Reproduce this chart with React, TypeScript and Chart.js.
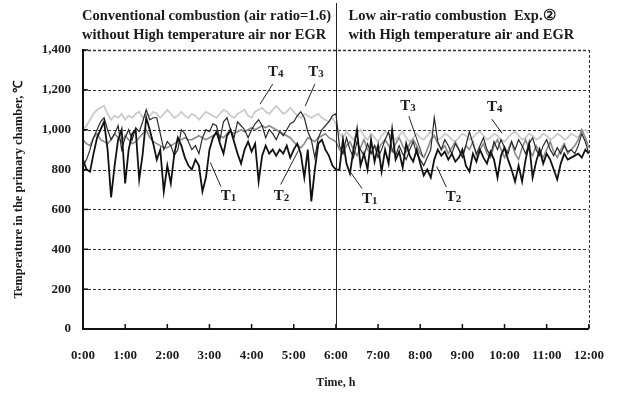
import { useEffect, useRef } from "react";
import { Chart, registerables } from "chart.js";

Chart.register(...registerables);

// ---------- data (one value every 5 minutes, 0:00 .. 12:00) ----------
const STEP_MIN = 5;

const T1 = [
  850, 800, 790, 880, 960, 1000, 1040, 900, 660, 820, 950, 1000,
  730, 900, 980, 1000, 750, 880, 1060, 1000, 930, 850, 900, 690,
  820, 730, 880, 960, 920, 860, 820, 800, 850, 820, 690, 760,
  900, 960, 990, 930, 880, 970, 1000, 940, 880, 830, 900, 940,
  890, 930, 740, 870, 920, 880, 900, 870, 900, 880, 920, 860,
  900, 930, 880, 760, 900, 640, 800, 930, 950, 900, 870, 820,
  800, 800, 950, 830, 780, 900, 1000, 820, 880, 800, 950, 840,
  920, 790, 900, 830, 1000, 850, 890, 810, 930, 870, 840, 900,
  830, 770, 800, 760, 850, 900, 870, 890, 850, 880, 840, 860,
  900, 820, 790, 880, 840, 900, 860, 830, 890, 850, 760, 870,
  910, 850, 800, 740, 820, 740, 850, 930, 760, 840, 900, 830,
  880, 850, 800, 750, 830, 880, 850, 860, 870, 880, 860, 900,
  880,
];

const T3 = [
  820, 850, 900, 960, 1000, 1040, 1060, 1000, 950, 980, 1020, 900,
  960, 1000, 950, 1010, 990, 1040, 1100, 1050, 1060, 1060, 980, 900,
  940, 920, 870, 900, 1000, 980, 940, 900, 920, 880, 960, 1000,
  990, 1030, 1020, 950, 1040, 1060, 1000, 960, 1040, 1020, 1000, 960,
  1000, 1030, 1050, 1020, 960, 1000, 980, 950, 990, 970, 1000, 1030,
  1040, 1070, 1090, 1060, 990, 950, 860, 960, 1000, 1020, 1040, 1070,
  1080, 920, 880, 960, 900, 860, 940, 900, 870, 930, 880, 920,
  860, 900, 950, 990, 900, 870, 920, 880, 850, 900, 940, 880,
  850, 820, 860, 900, 1060, 940, 900, 950, 920, 880, 930, 900,
  860, 920, 990, 930, 880, 920, 960, 900, 870, 940, 900, 950,
  910, 880, 940, 900, 950, 920, 880, 930, 960, 900, 870, 920,
  950, 900, 870, 910, 880, 920, 890, 900, 880, 920, 980, 940,
  880,
];

const T2 = [
  950, 930, 920, 960, 980, 950, 940, 930, 950, 980, 960, 940,
  970, 950, 930, 940, 960, 980, 1000, 960, 940, 930, 920, 910,
  910, 920, 930, 940, 950, 960, 950, 950, 960, 970, 960, 950,
  960, 970, 980, 970, 960, 980, 990, 980, 990, 1000, 990, 1000,
  1010, 1000, 1010, 1020, 1010, 1020, 1010, 1000, 990, 980, 970, 960,
  940, 920, 910, 930, 960, 950, 940, 960, 970, 980, 960, 950,
  940, 900, 880, 920, 940, 900, 870, 910, 950, 900, 880, 920,
  900, 930, 950, 920, 890, 930, 960, 920, 890, 930, 950, 920,
  880, 860, 900, 950, 970, 930, 900, 920, 880, 910, 940, 900,
  870, 920, 900, 940, 870, 900, 930, 880, 860, 920, 950, 900,
  860, 900, 940, 880, 850, 910, 950, 900, 870, 920, 890, 860,
  900, 940, 890, 860, 900, 930, 880, 900, 920, 950, 1000, 960,
  910,
];

const T4 = [
  1000, 1020, 1050, 1080, 1100, 1110, 1120, 1080, 1050, 1070, 1060, 1080,
  1050, 1070, 1060, 1080, 1090, 1060, 1080, 1070, 1090, 1080, 1060, 1080,
  1100, 1080, 1060, 1070, 1090, 1070, 1060, 1080, 1070, 1050, 1070, 1090,
  1080, 1070, 1060, 1080, 1100, 1090, 1070, 1060, 1080, 1090, 1100, 1070,
  1060, 1090, 1100, 1110, 1090, 1080, 1100, 1120, 1100, 1080, 1090, 1110,
  1090, 1070, 1060, 1080, 1070, 1060, 1070, 1080, 1060, 1050, 1040, 1060,
  1030, 980, 960, 990, 970, 950, 980, 1000, 970, 950, 980, 960,
  940, 970, 990, 980, 960, 950, 970, 990, 960, 940, 960, 980,
  960, 950, 970, 990, 970, 950, 960, 980, 970, 950, 940, 960,
  980, 970, 950, 960, 980, 990, 970, 950, 960, 980, 970, 950,
  940, 960, 980, 990, 970, 950, 960, 980, 970, 950, 960, 980,
  970, 950, 960, 980, 970, 950, 960, 980, 970, 960, 990, 1000,
  980,
];

const TIME_LABELS = [
  "0:00", "1:00", "2:00", "3:00", "4:00", "5:00", "6:00",
  "7:00", "8:00", "9:00", "10:00", "11:00", "12:00",
];
const TEMP_TICKS = [0, 200, 400, 600, 800, 1000, 1200, 1400];
const SPLIT_HOUR = 6;

const TITLE_LEFT = [
  "Conventional combustion (air ratio=1.6)",
  "without High temperature air nor EGR",
];
const TITLE_RIGHT = [
  "Low air-ratio combustion  Exp.\u2461",
  "with High temperature air and EGR",
];

// label annotations, in data units: [hour, °C]
const ANNOTATIONS = [
  { sub: "4", at: [4.57, 1289], from: [4.5, 1229], to: [4.2, 1128] },
  { sub: "3", at: [5.53, 1289], from: [5.5, 1229], to: [5.27, 1118] },
  { sub: "1", at: [3.45, 665], from: [3.27, 715], to: [3.02, 836] },
  { sub: "2", at: [4.71, 665], from: [4.69, 725], to: [5.11, 896] },
  { sub: "1", at: [6.8, 650], from: [6.62, 705], to: [6.33, 791] },
  { sub: "2", at: [8.79, 660], from: [8.62, 712], to: [8.39, 816] },
  { sub: "3", at: [7.71, 1118], from: [7.73, 1068], to: [8.06, 866] },
  { sub: "4", at: [9.77, 1113], from: [9.7, 1053], to: [9.94, 982] },
];

const FONT = "'Liberation Serif', 'Times New Roman', serif";
const INK = "#1a1a1a";

const toPoints = (arr: number[]) =>
  arr.map((v, i) => ({ x: (i * STEP_MIN) / 60, y: v }));

const overlay = {
  id: "overlay",
  beforeDatasetsDraw(chart: any) {
    const { ctx, chartArea: a, scales } = chart;
    const y = scales.y;
    ctx.save();
    ctx.strokeStyle = "#333";
    ctx.lineWidth = 1;
    ctx.setLineDash([3, 2]);
    for (const v of TEMP_TICKS) {
      if (v === 0) continue;
      const py = Math.round(y.getPixelForValue(v)) + 0.5;
      ctx.lineWidth = v === 1400 ? 1.6 : 1;
      ctx.beginPath();
      ctx.moveTo(a.left, py);
      ctx.lineTo(a.right, py);
      ctx.stroke();
    }
    ctx.lineWidth = 1;
    ctx.beginPath();
    ctx.moveTo(Math.round(a.right) + 0.5, a.top);
    ctx.lineTo(Math.round(a.right) + 0.5, a.bottom);
    ctx.stroke();
    ctx.restore();
  },
  afterDatasetsDraw(chart: any) {
    const { ctx, chartArea: a, scales } = chart;
    const x = scales.x;
    const y = scales.y;
    ctx.save();
    ctx.setLineDash([]);
    ctx.strokeStyle = "#111";
    // axes
    ctx.lineWidth = 2;
    ctx.beginPath();
    ctx.moveTo(a.left, a.top - 1);
    ctx.lineTo(a.left, a.bottom);
    ctx.lineTo(a.right, a.bottom);
    ctx.stroke();
    // inner ticks
    ctx.lineWidth = 1.5;
    for (let h = 0; h <= 12; h++) {
      const px = x.getPixelForValue(h);
      ctx.beginPath();
      ctx.moveTo(px, a.bottom);
      ctx.lineTo(px, a.bottom - 5);
      ctx.stroke();
    }
    for (const v of TEMP_TICKS) {
      const py = y.getPixelForValue(v);
      ctx.beginPath();
      ctx.moveTo(a.left, py);
      ctx.lineTo(a.left + 5, py);
      ctx.stroke();
    }
    // split line
    const sx = Math.round(x.getPixelForValue(SPLIT_HOUR)) + 0.5;
    ctx.lineWidth = 1;
    ctx.strokeStyle = "#222";
    ctx.beginPath();
    ctx.moveTo(sx, 3);
    ctx.lineTo(sx, a.bottom);
    ctx.stroke();

    // headers
    ctx.fillStyle = INK;
    ctx.font = `bold 14.5px ${FONT}`;
    ctx.textBaseline = "middle";
    ctx.textAlign = "left";
    ctx.fillText(TITLE_LEFT[0], a.left - 1, 16);
    ctx.fillText(TITLE_LEFT[1], a.left - 1, 35);
    ctx.fillText(TITLE_RIGHT[0], sx + 12, 16);
    ctx.fillText(TITLE_RIGHT[1], sx + 12, 35);

    // annotations
    ctx.strokeStyle = "#222";
    ctx.lineWidth = 1;
    for (const an of ANNOTATIONS) {
      ctx.beginPath();
      ctx.moveTo(x.getPixelForValue(an.from[0]), y.getPixelForValue(an.from[1]));
      ctx.lineTo(x.getPixelForValue(an.to[0]), y.getPixelForValue(an.to[1]));
      ctx.stroke();
      const cx = x.getPixelForValue(an.at[0]);
      const cy = y.getPixelForValue(an.at[1]);
      ctx.font = `bold 15px ${FONT}`;
      const w1 = ctx.measureText("T").width;
      ctx.font = `bold 11px ${FONT}`;
      const w2 = ctx.measureText(an.sub).width;
      const start = cx - (w1 + w2) / 2;
      ctx.font = `bold 15px ${FONT}`;
      ctx.fillText("T", start, cy);
      ctx.font = `bold 11px ${FONT}`;
      ctx.fillText(an.sub, start + w1, cy + 2);
    }
    ctx.restore();
  },
};

export default function App() {
  const ref = useRef<HTMLCanvasElement>(null);

  useEffect(() => {
    const chart = new Chart(ref.current as HTMLCanvasElement, {
      type: "line",
      data: {
        datasets: [
          { label: "T1", data: toPoints(T1), borderColor: "#111", borderWidth: 1.8 },
          { label: "T3", data: toPoints(T3), borderColor: "#2a2a2a", borderWidth: 1.2 },
          { label: "T2", data: toPoints(T2), borderColor: "#8a8a8a", borderWidth: 1.6 },
          { label: "T4", data: toPoints(T4), borderColor: "#cbcbcb", borderWidth: 1.8 },
        ].map((d) => ({ ...d, pointRadius: 0, tension: 0, fill: false })),
      },
      options: {
        responsive: false,
        animation: false,
        parsing: false as any,
        layout: { padding: { left: 0, right: 28, top: 50, bottom: 0 } },
        plugins: { legend: { display: false }, tooltip: { enabled: false } },
        scales: {
          x: {
            type: "linear",
            min: 0,
            max: 12,
            afterFit: (s: any) => {
              s.height = 67;
            },
            grid: { display: false, drawTicks: false },
            border: { display: false },
            ticks: {
              stepSize: 1,
              autoSkip: false,
              maxRotation: 0,
              padding: 19,
              color: INK,
              font: { family: FONT, size: 13, weight: "bold" },
              callback: (v: any) => TIME_LABELS[v],
            },
            title: {
              display: true,
              text: "Time, h",
              color: INK,
              font: { family: FONT, size: 12, weight: "bold" },
              padding: { top: 0, bottom: 6 },
            },
          },
          y: {
            min: 0,
            max: 1400,
            afterFit: (s: any) => {
              s.width = 83;
            },
            grid: { display: false, drawTicks: false },
            border: { display: false },
            ticks: {
              stepSize: 200,
              padding: 12,
              color: INK,
              font: { family: FONT, size: 13, weight: "bold" },
              callback: (v: any) => Number(v).toLocaleString("en-US"),
            },
            title: {
              display: true,
              text: "Temperature in the primary chamber, \u2103",
              color: INK,
              font: { family: FONT, size: 12.5, weight: "bold" },
              padding: { top: 11, bottom: 0 },
            },
          },
        },
      },
      plugins: [overlay],
    });
    return () => chart.destroy();
  }, []);

  return (
    <div
      style={{
        position: "absolute",
        left: 0,
        top: 0,
        width: 623,
        height: 396,
        background: "#fff",
      }}
    >
      <canvas ref={ref} width={623} height={396} style={{ display: "block" }} />
    </div>
  );
}
